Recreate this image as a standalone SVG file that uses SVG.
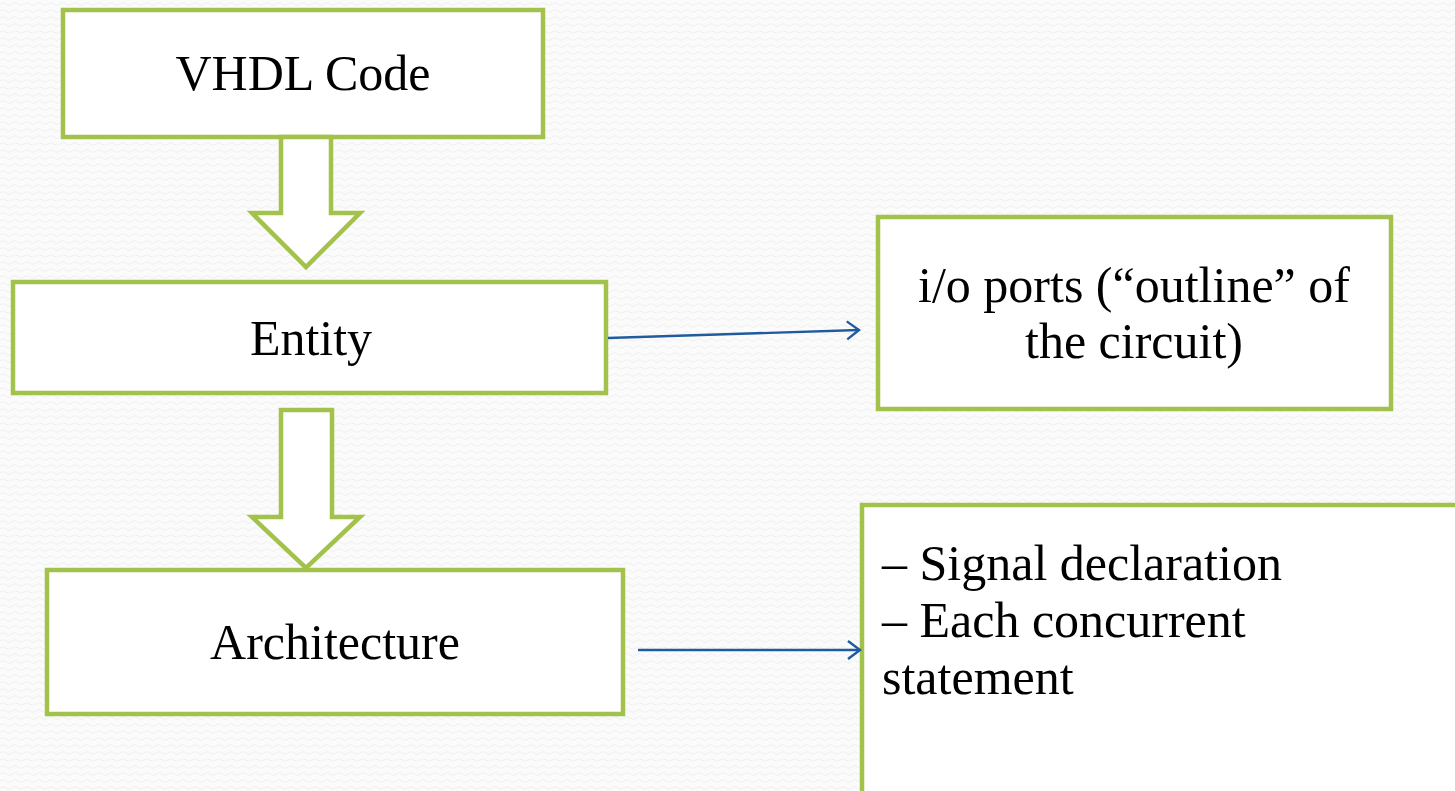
<svg xmlns="http://www.w3.org/2000/svg" width="1455" height="791" viewBox="0 0 1455 791">
  <defs>
    <pattern id="bg" width="12" height="7" patternUnits="userSpaceOnUse">
      <path d="M0 4 Q3 1 6 4 T12 4" fill="none" stroke="#efefef" stroke-width="1"/>
    </pattern>
    <marker id="chev" markerWidth="16" markerHeight="22" refX="14" refY="11" orient="auto" markerUnits="userSpaceOnUse">
      <path d="M2 2 L14 11 L2 20" fill="none" stroke="#1f5b9e" stroke-width="2.4"/>
    </marker>
  </defs>
  <style>
    .box { fill: #ffffff; stroke: #a3c24c; stroke-width: 4.5; }
    .blk { fill: #ffffff; stroke: #a3c24c; stroke-width: 4.5; stroke-linejoin: miter; }
    .lbl { font-family: "Liberation Serif", "Times New Roman", serif; font-size: 50px; fill: #000000; }
    .c { text-anchor: middle; }
    .conn { fill: none; stroke: #1f5b9e; stroke-width: 2.4; marker-end: url(#chev); }
  </style>
  <rect width="1455" height="791" fill="#fbfbfb"/>
  <rect width="1455" height="791" fill="url(#bg)"/>

  <g id="vhdl">
    <rect class="box" x="63" y="10" width="480" height="127"/>
    <text class="lbl c" x="303" y="90">VHDL Code</text>
  </g>
  <g id="arrow1">
    <polygon class="blk" points="281,137 331,137 331,213 360,213 306,267 252,213 281,213"/>
  </g>
  <g id="entity">
    <rect class="box" x="13" y="282" width="593" height="111"/>
    <text class="lbl c" x="311" y="355">Entity</text>
  </g>
  <g id="arrow2">
    <polygon class="blk" points="281,410 332,410 332,517 360,517 306,568 252,517 281,517"/>
  </g>
  <g id="architecture">
    <rect class="box" x="47" y="570" width="576" height="144"/>
    <text class="lbl c" x="335" y="659">Architecture</text>
  </g>
  <g id="ioports">
    <rect class="box" x="878" y="217" width="513" height="192"/>
    <text class="lbl c" x="1134" y="302">i/o ports (“outline” of</text>
    <text class="lbl c" x="1134" y="358">the circuit)</text>
  </g>
  <g id="archdetails">
    <rect class="box" x="862" y="505" width="600" height="300"/>
    <text class="lbl" x="882" y="580">–  Signal declaration</text>
    <text class="lbl" x="882" y="637">–  Each concurrent</text>
    <text class="lbl" x="882" y="694">statement</text>
  </g>
  <g id="connectors">
    <line class="conn" x1="608" y1="338" x2="859" y2="330"/>
    <line class="conn" x1="638" y1="650" x2="860" y2="650"/>
  </g>
</svg>
